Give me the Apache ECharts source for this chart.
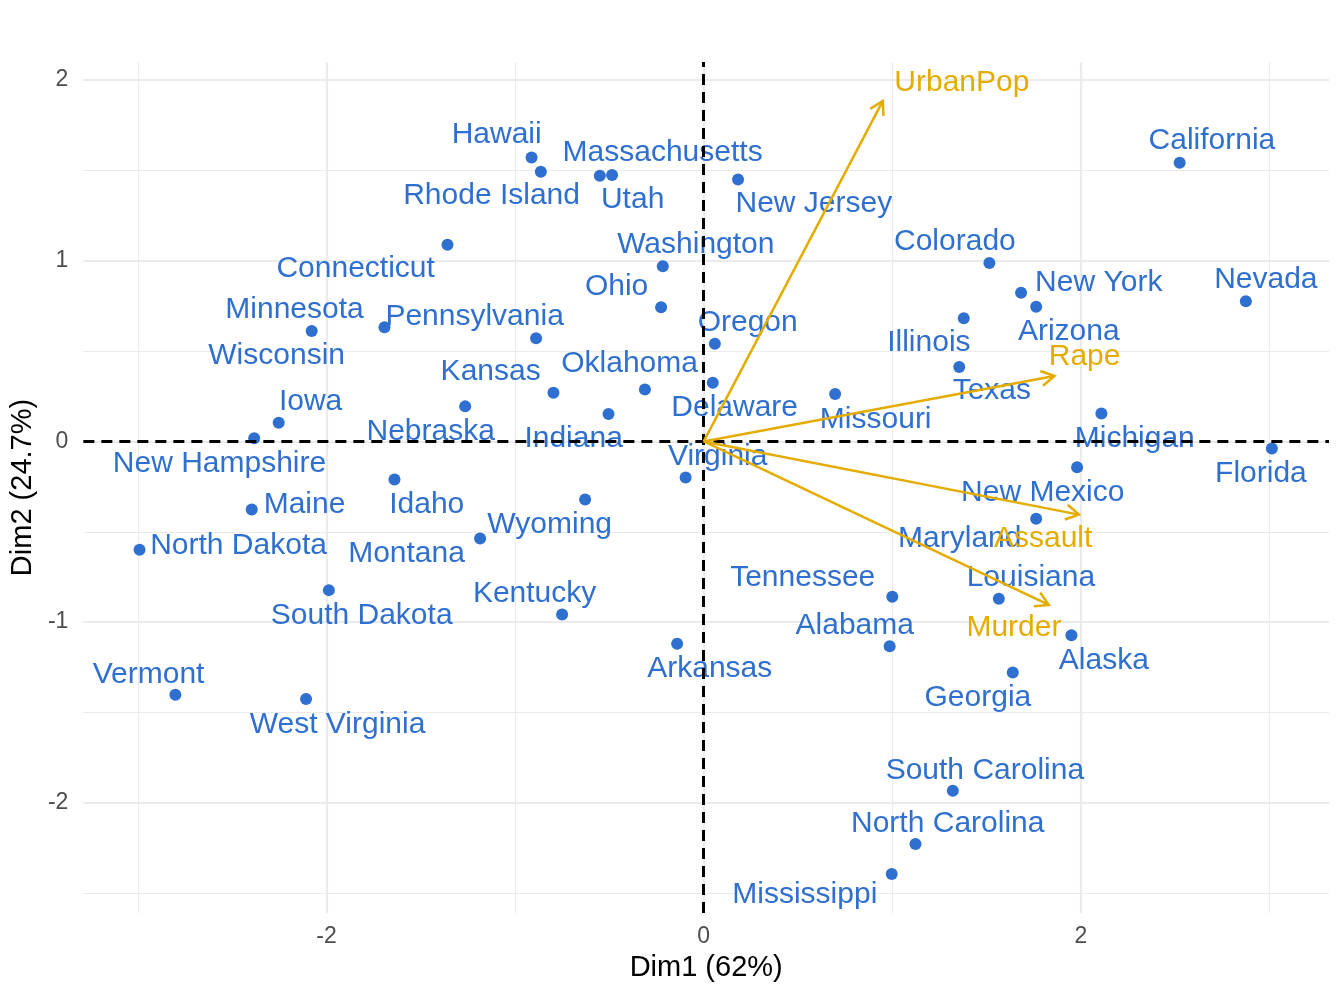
<!DOCTYPE html>
<html>
<head>
<meta charset="utf-8">
<script src="https://cdn.jsdelivr.net/npm/echarts@6/dist/echarts.min.js"></script>
<style>
  html, body { margin: 0; padding: 0; background: #fff; }
  #chart { width: 1344px; height: 998px; }
</style>
</head>
<body>
<div id="chart"></div>
<script>
// individuals (states) on the first two dimensions
const states = ['Alabama', 'Alaska', 'Arizona', 'Arkansas', 'California', 'Colorado', 'Connecticut',
  'Delaware', 'Florida', 'Georgia', 'Hawaii', 'Idaho', 'Illinois', 'Indiana', 'Iowa', 'Kansas',
  'Kentucky', 'Louisiana', 'Maine', 'Maryland', 'Massachusetts', 'Michigan', 'Minnesota',
  'Mississippi', 'Missouri', 'Montana', 'Nebraska', 'Nevada', 'New Hampshire', 'New Jersey',
  'New Mexico', 'New York', 'North Carolina', 'North Dakota', 'Ohio', 'Oklahoma', 'Oregon',
  'Pennsylvania', 'Rhode Island', 'South Carolina', 'South Dakota', 'Tennessee', 'Texas', 'Utah',
  'Vermont', 'Virginia', 'Washington', 'West Virginia', 'Wisconsin', 'Wyoming'];
const dim1 = [0.986, 1.950, 1.763, -0.141, 2.524, 1.515, -1.359, 0.048, 3.013, 1.639, -0.913, -1.640,
  1.379, -0.505, -2.254, -0.797, -0.751, 1.565, -2.397, 1.763, -0.486, 2.109, -1.693, 0.997, 0.697,
  -1.186, -1.265, 2.875, -2.384, 0.182, 1.980, 1.683, 1.123, -2.992, -0.226, -0.312, 0.059, -0.889,
  -0.864, 1.321, -1.988, 1.000, 1.355, -0.551, -2.802, -0.096, -0.217, -2.109, -2.079, -0.629];
const dim2 = [-1.133, -1.073, 0.746, -1.120, 1.543, 0.988, 1.089, 0.325, -0.039, -1.279, 1.571, -0.211,
  0.682, 0.152, 0.104, 0.270, -0.958, -0.871, -0.377, -0.428, 1.475, 0.155, 0.632, -2.394, 0.263,
  -0.537, 0.194, 0.776, 0.018, 1.450, -0.143, 0.823, -2.228, -0.599, 0.742, 0.288, 0.541, 0.571,
  1.492, -1.934, -0.823, -0.860, 0.412, 1.471, -1.402, -0.200, 0.970, -1.425, 0.611, -0.321];
// where each state's name sits (repelled text), same units
const labelDim1 = [0.801, 2.122, 1.936, 0.032, 2.695, 1.332, -1.846, 0.164, 2.955, 1.454, -1.098, -1.469,
  1.194, -0.690, -2.085, -1.130, -0.897, 1.735, -2.117, 1.358, -0.218, 2.286, -2.170, 0.536, 0.912,
  -1.576, -1.448, 2.981, -2.568, 0.584, 1.798, 2.095, 1.294, -2.467, -0.462, -0.393, 0.233, -1.215,
  -1.125, 1.491, -1.814, 0.525, 1.528, -0.377, -2.944, 0.074, -0.042, -1.942, -2.265, -0.817];
const labelDim2 = [-1.022, -1.215, 0.608, -1.260, 1.663, 1.105, 0.956, 0.188, -0.177, -1.420, 1.696, -0.348,
  0.547, 0.017, 0.221, 0.387, -0.845, -0.757, -0.348, -0.536, 1.597, 0.017, 0.729, -2.508, 0.122,
  -0.619, 0.055, 0.895, -0.122, 1.315, -0.282, 0.878, -2.116, -0.575, 0.856, 0.431, 0.657, 0.691,
  1.359, -1.823, -0.967, -0.757, 0.282, 1.337, -1.293, -0.083, 1.088, -1.569, 0.475, -0.459];

// variables (arrows)
const variables = ['Murder', 'Assault', 'UrbanPop', 'Rape'];
const varDim1 = [1.83, 1.99, 0.95, 1.86];
const varDim2 = [-0.905, -0.405, 1.885, 0.362];
const varLabelDim1 = [1.645, 1.80, 1.369, 2.02];
const varLabelDim2 = [-1.033, -0.536, 1.983, 0.47];

// axes
const xTicks = [-2, 0, 2];
const yTicks = [-2, -1, 0, 1, 2];
const xMinor = [-3, -1, 1, 3];
const yMinor = [-2.5, -1.5, -0.5, 0.5, 1.5];

const indColor = '#2E6FD0';
const varColor = '#E5AC00';
const font = '"Liberation Sans", Arial, Helvetica, sans-serif';

const chart = echarts.init(document.getElementById('chart'));

const gridLines = []
  .concat(xTicks.map(v => ({ xAxis: v, lineStyle: { width: 2.2 } })))
  .concat(xMinor.map(v => ({ xAxis: v, lineStyle: { width: 1.1 } })))
  .concat(yTicks.map(v => ({ yAxis: v, lineStyle: { width: 2.2 } })))
  .concat(yMinor.map(v => ({ yAxis: v, lineStyle: { width: 1.1 } })));

// plain text label, no auto stroke
function textLabel(color) {
  return {
    show: true,
    position: 'inside',
    formatter: p => p.name,
    color: color,
    textBorderWidth: 0,
    textBorderColor: 'transparent',
    fontSize: 30,
    fontFamily: font
  };
}

chart.setOption({
  animation: false,
  backgroundColor: '#fff',
  grid: { left: 83, right: 15, top: 62, bottom: 85 },
  xAxis: {
    type: 'value',
    min: -3.29,
    max: 3.316,
    name: 'Dim1 (62%)',
    nameLocation: 'middle',
    nameGap: 40,
    nameTextStyle: { color: '#000', fontSize: 29, fontFamily: font },
    axisLine: { show: false },
    axisTick: { show: false },
    splitLine: { show: false },
    axisLabel: { customValues: xTicks, color: '#4D4D4D', fontSize: 23, fontFamily: font, margin: 12 }
  },
  yAxis: {
    type: 'value',
    min: -2.61,
    max: 2.10,
    name: 'Dim2 (24.7%)',
    nameLocation: 'middle',
    nameGap: 36,
    nameTextStyle: { color: '#000', fontSize: 29, fontFamily: font },
    axisLine: { show: false },
    axisTick: { show: false },
    splitLine: { show: false },
    axisLabel: { customValues: yTicks, color: '#4D4D4D', fontSize: 23, fontFamily: font, margin: 15 }
  },
  series: [
    {
      name: 'grid',
      type: 'scatter',
      data: [],
      silent: true,
      z: 0,
      markLine: {
        z: 0,
        silent: true,
        symbol: 'none',
        label: { show: false },
        lineStyle: { color: '#EBEBEB', type: 'solid' },
        data: gridLines
      }
    },
    {
      name: 'states',
      type: 'scatter',
      symbolSize: 12,
      itemStyle: { color: indColor, opacity: 1 },
      data: states.map((s, i) => ({ name: s, value: [dim1[i], dim2[i]] })),
      z: 2
    },
    {
      name: 'stateLabels',
      type: 'scatter',
      symbolSize: 0,
      silent: true,
      itemStyle: { color: indColor, opacity: 1 },
      data: states.map((s, i) => ({ name: s, value: [labelDim1[i], labelDim2[i]] })),
      label: textLabel(indColor),
      z: 3
    },
    {
      name: 'origin',
      type: 'scatter',
      data: [],
      silent: true,
      z: 4,
      markLine: {
        z: 4,
        silent: true,
        symbol: 'none',
        label: { show: false },
        lineStyle: { color: '#000', type: [11, 7], width: 3 },
        data: [{ xAxis: 0 }, { yAxis: 0 }]
      }
    },
    {
      name: 'arrows',
      type: 'custom',
      silent: true,
      z: 5,
      data: variables.map((v, i) => [varDim1[i], varDim2[i]]),
      renderItem: function (params, api) {
        const p0 = api.coord([0, 0]);
        const p1 = api.coord([api.value(0), api.value(1)]);
        const ang = Math.atan2(p1[1] - p0[1], p1[0] - p0[0]);
        const len = 15, spread = Math.PI / 6;
        const a = [p1[0] - len * Math.cos(ang - spread), p1[1] - len * Math.sin(ang - spread)];
        const b = [p1[0] - len * Math.cos(ang + spread), p1[1] - len * Math.sin(ang + spread)];
        const st = { stroke: varColor, lineWidth: 2.5, fill: null };
        return {
          type: 'group',
          children: [
            { type: 'line', shape: { x1: p0[0], y1: p0[1], x2: p1[0], y2: p1[1] }, style: st },
            { type: 'polyline', shape: { points: [a, p1, b] }, style: st }
          ]
        };
      }
    },
    {
      name: 'varLabels',
      type: 'scatter',
      symbolSize: 0,
      silent: true,
      itemStyle: { color: varColor, opacity: 1 },
      data: variables.map((v, i) => ({ name: v, value: [varLabelDim1[i], varLabelDim2[i]] })),
      label: textLabel(varColor),
      z: 6
    }
  ]
});
</script>
</body>
</html>
